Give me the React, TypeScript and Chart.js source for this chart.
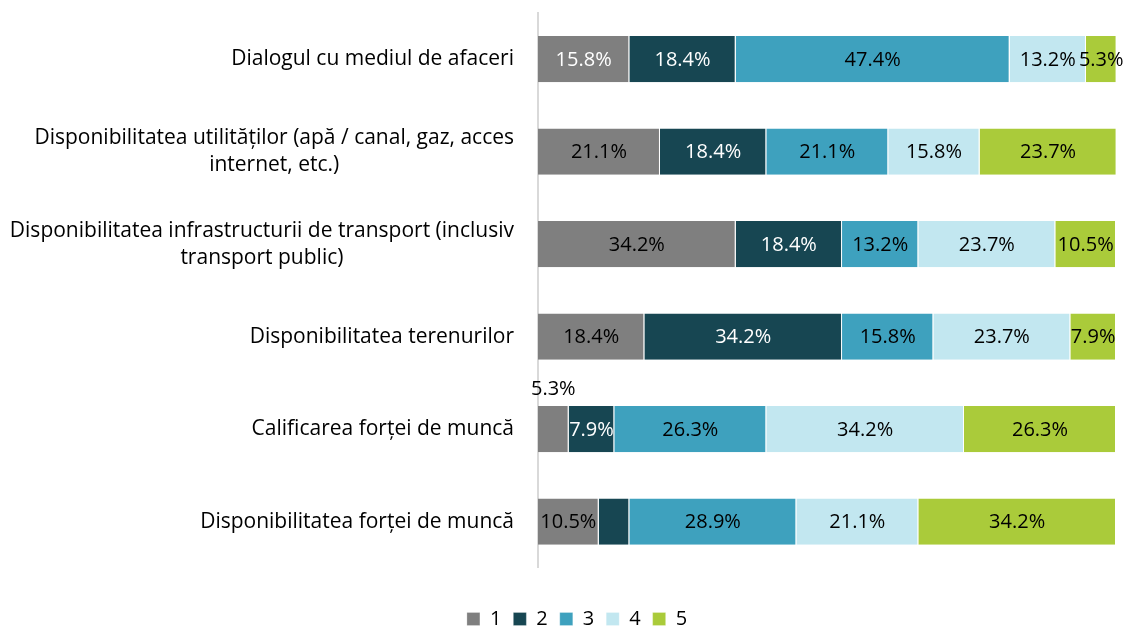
import React, { useEffect, useRef } from "react";
import { Chart, registerables } from "chart.js";

Chart.register(...registerables);

const categories: string[][] = [
  ["Dialogul cu mediul de afaceri"],
  ["Disponibilitatea utilităților (apă / canal, gaz, acces", "internet, etc.)"],
  ["Disponibilitatea infrastructurii de transport (inclusiv", "transport public)"],
  ["Disponibilitatea terenurilor"],
  ["Calificarea forței de muncă"],
  ["Disponibilitatea forței de muncă"],
];

const seriesNames = ["1", "2", "3", "4", "5"];
const series1 = [15.8, 21.1, 34.2, 18.4, 5.3, 10.5];
const series2 = [18.4, 18.4, 18.4, 34.2, 7.9, 5.3];
const series3 = [47.4, 21.1, 13.2, 15.8, 26.3, 28.9];
const series4 = [13.2, 15.8, 23.7, 23.7, 34.2, 21.1];
const series5 = [5.3, 23.7, 10.5, 7.9, 26.3, 34.2];
const seriesColors = ["#7f7f7f", "#174652", "#3ea1be", "#c2e7f0", "#aacb3a"];
const labelColors = ["#000000", "#ffffff", "#000000", "#000000", "#000000"];

const FONT = "'Open Sans', sans-serif";
const VALUE_SIZE = 20;
const CAT_SIZE = 21;
const LEGEND_SIZE = 20;

const labelPlugin = {
  id: "customLabels",
  afterDatasetsDraw(chart: any) {
    const ctx = chart.ctx;
    ctx.save();
    ctx.font = `${VALUE_SIZE}px ${FONT}`;
    ctx.textBaseline = "middle";
    ctx.textAlign = "center";
    chart.data.datasets.forEach((ds: any, di: number) => {
      const meta = chart.getDatasetMeta(di);
      meta.data.forEach((el: any, j: number) => {
        const v = ds.data[j];
        // Excel hid the overlapping label in the last row
        if (di === 1 && j === 5) return;
        let color = labelColors[di];
        if (di === 0 && j === 0) color = "#ffffff";
        const x = (el.x + el.base) / 2;
        let y = el.y;
        if (di === 0 && j === 4) {
          y = el.y - 41;
          color = "#000000";
        }
        ctx.fillStyle = color;
        ctx.fillText(`${v.toFixed(1)}%`, x, y + 1);
      });
    });
    // category labels
    const yScale = chart.scales.y;
    const right = yScale.right - 24;
    ctx.font = `${CAT_SIZE}px ${FONT}`;
    ctx.fillStyle = "#000000";
    categories.forEach((lines, j) => {
      const cy = yScale.getPixelForValue(j);
      const lh = 27;
      const w1 = ctx.measureText(lines[0]).width;
      lines.forEach((line, k) => {
        const ly = cy + (k - (lines.length - 1) / 2) * lh;
        if (k === 0) {
          ctx.textAlign = "right";
          ctx.fillText(line, right, ly);
        } else {
          ctx.textAlign = "center";
          ctx.fillText(line, right - w1 / 2, ly);
        }
      });
    });
    ctx.restore();
  },
};

export default function App() {
  const ref = useRef<HTMLCanvasElement | null>(null);
  useEffect(() => {
    if (!ref.current) return;
    const values = [series1, series2, series3, series4, series5];
    const chart = new Chart(ref.current, {
      type: "bar",
      data: {
        labels: categories.map((c) => c.join(" ")),
        datasets: values.map((d, i) => ({
          label: seriesNames[i],
          data: d,
          backgroundColor: seriesColors[i],
          borderColor: "#ffffff",
          borderWidth: { right: 1, left: 0, top: 0, bottom: 0 },
          borderSkipped: false,
          barPercentage: 0.5,
          categoryPercentage: 1,
        })),
      },
      options: {
        indexAxis: "y",
        animation: false,
        responsive: true,
        maintainAspectRatio: false,
        layout: { padding: { top: 13, right: 19, left: 38, bottom: -13 } },
        scales: {
          x: { display: false, stacked: true, min: 0, max: 100 },
          y: {
            stacked: true,
            grid: { display: false },
            ticks: { display: false },
            border: { display: true, color: "#d9d9d9", width: 2 },
            afterFit: (scale: any) => {
              scale.width = 500;
            },
          },
        },
        plugins: {
          legend: {
            position: "bottom",
            title: {
              display: true,
              text: " ",
              font: { size: 1 },
              padding: { top: 0, bottom: 28 },
            },
            labels: {
              boxWidth: 13,
              boxHeight: 13,
              padding: 12,
              color: "#000000",
              font: { family: FONT, size: LEGEND_SIZE },
            },
          },
          tooltip: { enabled: false },
        },
      },
      plugins: [labelPlugin],
    } as any);
    return () => chart.destroy();
  }, []);
  return (
    <div style={{ position: "fixed", left: 0, top: 0, width: 1135, height: 626, background: "#fff" }}>
      <canvas ref={ref} />
    </div>
  );
}
